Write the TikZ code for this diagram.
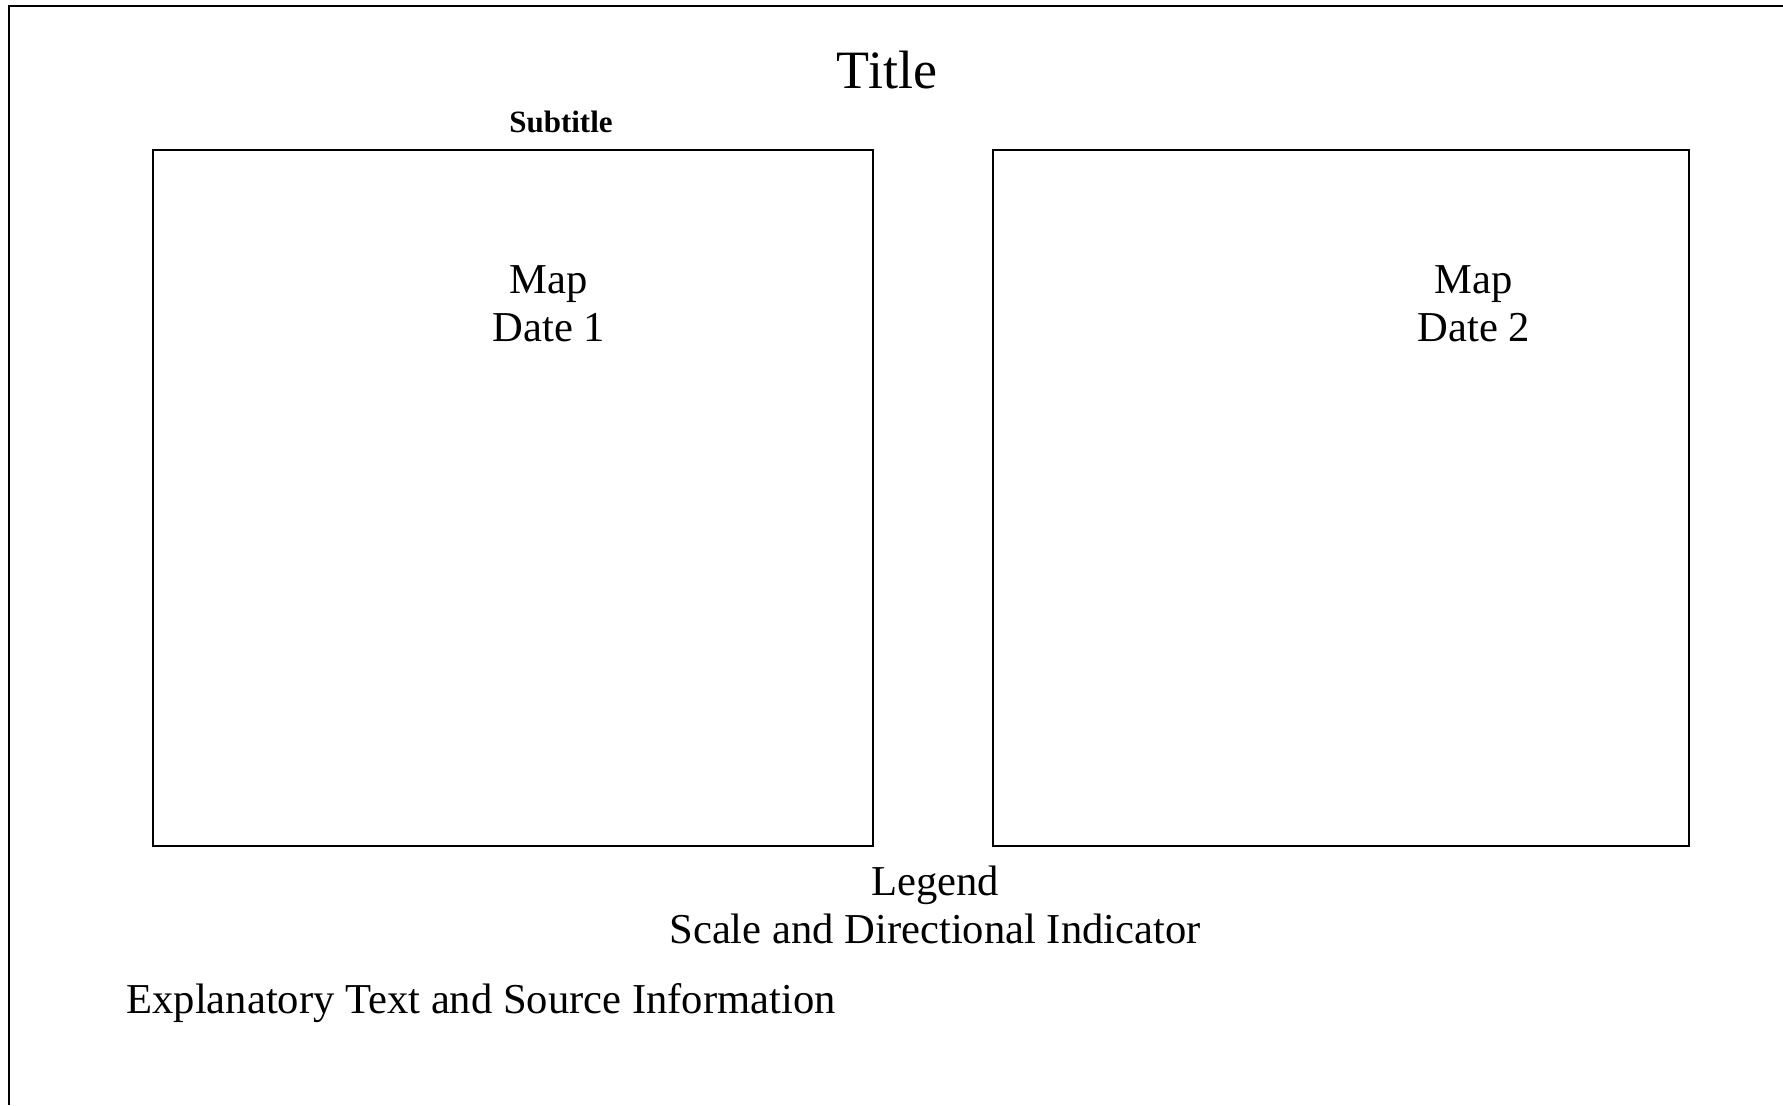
\documentclass[tikz,border=0pt]{standalone}
\usepackage{fontspec}
\setmainfont{Liberation Serif}
\begin{document}
\begin{tikzpicture}[x=0.5pt,y=-0.5pt,
  frameline/.style={draw=black,line width=1pt},
  mapbox/.style={draw=black,line width=1pt,inner sep=0pt},
  body/.style={font=\fontsize{21.3}{24}\selectfont,inner sep=0pt,anchor=base,align=center},
  titletext/.style={font=\fontsize{27}{30}\selectfont,inner sep=0pt,anchor=base},
  subtitletext/.style={font=\bfseries\fontsize{15.5}{18}\selectfont,inner sep=0pt,anchor=base}]
\useasboundingbox (0,0) rectangle (1783,1105);
% sheet frame (top and left edges)
\draw[frameline] (9,1105) -- (9,6) -- (1783,6);
% the two map panels
\draw[mapbox] (153,150) rectangle (873,846);
\draw[mapbox] (993,150) rectangle (1689,846);
% headings
\node[titletext] (title) at (887,88) {Title};
\node[subtitletext] (subtitle) at (561,132) {Subtitle};
% panel labels (anchored on the baseline of the last line)
\node[body] (map1) at (549,341) {Map\\Date 1};
\node[body] (map2) at (1474,341) {Map\\Date 2};
% legend block
\node[body] (legend) at (935,943) {Legend\\Scale and Directional Indicator};
% footer text
\node[body,anchor=base west] (notes) at (126,1013) {Explanatory Text and Source Information};
\end{tikzpicture}
\end{document}
